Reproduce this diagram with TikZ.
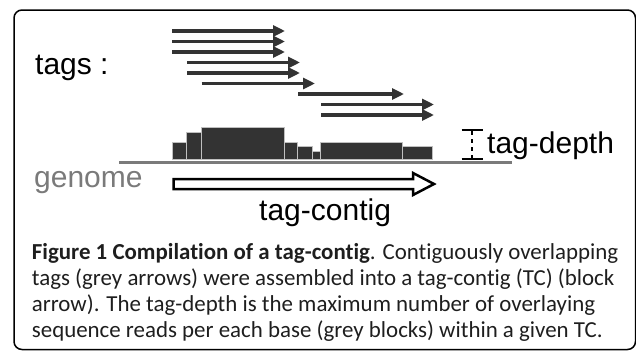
\documentclass[tikz,border=0pt]{standalone}
\usepackage{fontspec}
\setmainfont{Liberation Sans}
\newfontfamily\captionfont[Ligatures=NoCommon]{Carlito}
\usetikzlibrary{arrows.meta,
                positioning}
\definecolor{tagGrey}{HTML}{333333}
\definecolor{genomeGrey}{HTML}{7A7A7A}
\definecolor{capText}{HTML}{1E1E1E}
\tikzset{tag/.style=
   {draw=tagGrey,
    line width=3.5pt,
    -{Triangle[length=12pt,width=11pt]}}}
\tikzset{depthblock/.style=
   {fill=tagGrey,
    draw=white!75!black,
    line width=0.6pt}}
\tikzset{label/.style=
   {inner sep=0pt,
    anchor=base west,
    font=\fontsize{30}{36}\selectfont}}
\tikzset{caption/.style=
   {inner sep=0pt,
    anchor=base west,
    align=left,
    text=capText,
    font=\captionfont\fontsize{22.9}{26}\selectfont}}

\begin{document}
\begin{tikzpicture}[x=1pt, y=-1pt]

    \useasboundingbox (0,0) rectangle (636,351);

    % Frame
    \draw [line width=1.5pt, rounded corners=8pt] (14,10) rectangle (635.5,349.5);

    % Labels
    \node [label] (tags) at (35,74) {tags :};
    \node [label, text=genomeGrey] (genome) at (34,187) {genome};
    \node [label] (contig) at (259,220) {tag-contig};
    \node [label] (depth) at (487,153) {tag-depth};

    % Tags
    \path [tag] (172,31) -- (285,31);
    \path [tag] (172,41.5) -- (285,41.5);
    \path [tag] (172,52) -- (285,52);
    \path [tag] (187,62.5) -- (300,62.5);
    \path [tag] (187,73) -- (300,73);
    \path [tag] (201.5,83.5) -- (315,83.5);
    \path [tag] (298,94) -- (404,94);
    \path [tag] (321,104.5) -- (434,104.5);
    \path [tag] (321,115) -- (434,115);

    % Depth blocks
    \path [depthblock] (172.3,159) rectangle (186,142.3);
    \path [depthblock] (186,159) rectangle (201.7,132.7);
    \path [depthblock] (201.7,159) rectangle (284,127.7);
    \path [depthblock] (284,159) rectangle (297.7,142.3);
    \path [depthblock] (297.7,159) rectangle (312.7,146.7);
    \path [depthblock] (312.7,159) rectangle (320.7,151.3);
    \path [depthblock] (320.7,159) rectangle (402.3,142.3);
    \path [depthblock] (402.3,159) rectangle (432.7,146.7);

    % Genome
    \draw [genomeGrey, line width=3.5pt] (119,162.7) -- (512,162.7);

    % Tag-contig block arrow
    \draw [line width=2.5pt, line join=miter, fill=white]
    (173.5,179) -- (413,179) -- (413,173) -- (434,184)
    -- (413,195) -- (413,189) -- (173.5,189) -- cycle;

    % Tag-depth marker
    \draw [line width=2pt] (461.7,130) -- (482.7,130);
    \draw [line width=2pt] (461.7,159) -- (482.7,159);
    \draw [line width=2pt, dash pattern=on 4pt off 4pt] (472.3,131) -- (472.3,158);

    % Caption (anchored at its last line)
    \node [caption] (caption) at (31.7,337)
    {\textbf{Figure 1 Compilation of a tag-contig}. Contiguously overlapping\\
     tags (grey arrows) were assembled into a tag-contig (TC) (block\\
     arrow). The tag-depth is the maximum number of overlaying\\
     sequence reads per each base (grey blocks) within a given TC.};

\end{tikzpicture}
\end{document}
